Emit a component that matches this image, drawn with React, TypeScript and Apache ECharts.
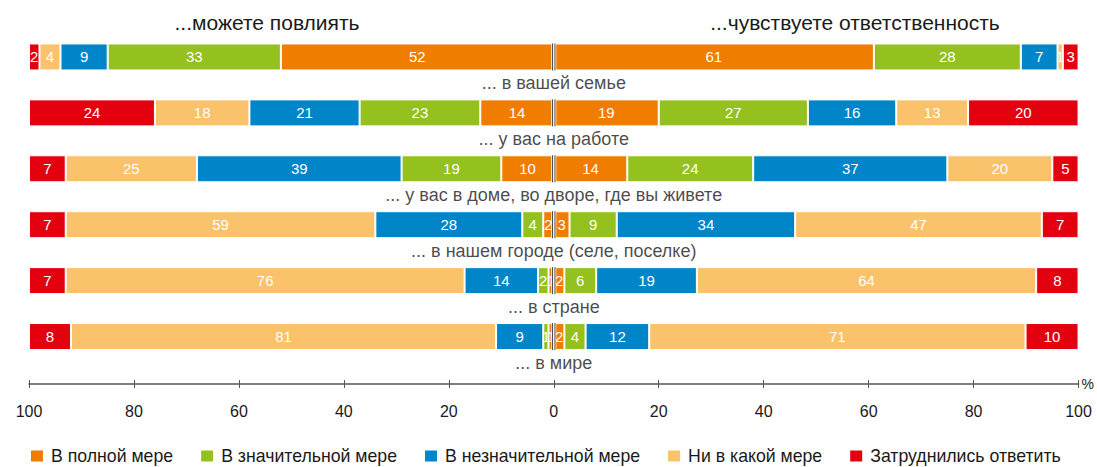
import React, { useEffect, useRef } from "react";
import * as echarts from "echarts";

const categories = [
  "... в вашей семье",
  "... у вас на работе",
  "... у вас в доме, во дворе, где вы живете",
  "... в нашем городе (селе, поселке)",
  "... в стране",
  "... в мире",
];
const levelNames = [
  "В полной мере",
  "В значительной мере",
  "В незначительной мере",
  "Ни в какой мере",
  "Затруднились ответить",
];
const levelColors = ["#F07C00", "#95C11F", "#0085C8", "#FAC26A", "#E3000F"];

// "...можете повлиять" (left side)
const influenceFull = [52, 14, 10, 2, 1, 1];
const influenceSignificant = [33, 23, 19, 4, 2, 1];
const influenceInsignificant = [9, 21, 39, 28, 14, 9];
const influenceNone = [4, 18, 25, 59, 76, 81];
const influenceHard = [2, 24, 7, 7, 7, 8];

// "...чувствуете ответственность" (right side)
const responsibleFull = [61, 19, 14, 3, 2, 2];
const responsibleSignificant = [28, 27, 24, 9, 6, 4];
const responsibleInsignificant = [7, 16, 37, 34, 19, 12];
const responsibleNone = [1, 13, 20, 47, 64, 71];
const responsibleHard = [3, 20, 5, 7, 8, 10];

const axisTicks = [-100, -80, -60, -40, -20, 0, 20, 40, 60, 80, 100];

const leftSide = [influenceFull, influenceSignificant, influenceInsignificant, influenceNone, influenceHard];
const rightSide = [responsibleFull, responsibleSignificant, responsibleInsignificant, responsibleNone, responsibleHard];

function sums(side: number[][]) {
  return categories.map((_, i) => side.reduce((s, arr) => s + arr[i], 0));
}

export default function App() {
  const ref = useRef<HTMLDivElement>(null);
  useEffect(() => {
    if (!ref.current) return;
    const chart = echarts.init(ref.current, undefined, { renderer: "svg" });
    const leftSums = sums(leftSide);
    const rightSums = sums(rightSide);
    const font = "Liberation Sans, Arial, sans-serif";

    const series: any[] = [];
    levelNames.forEach((name, k) => {
      [
        { side: leftSide, total: leftSums, sign: -1 },
        { side: rightSide, total: rightSums, sign: 1 },
      ].forEach(({ side, total, sign }) => {
        series.push({
          type: "bar",
          name,
          stack: "all",
          barWidth: 27,
          itemStyle: { color: levelColors[k], borderColor: "#fff", borderWidth: 1 },
          label: {
            show: true,
            position: "inside",
            color: "#fff",
            fontSize: 15,
            fontFamily: font,
            formatter: (p: any) => String(p.data.raw),
          },
          data: side[k].map((v, i) => ({ value: (sign * v * 100) / total[i], raw: v })),
        });
      });
    });

    // center divider
    series.push({
      type: "custom",
      name: "divider",
      z: 10,
      silent: true,
      encode: { x: 0, y: 1 },
      data: categories.map((_, i) => [0, i]),
      renderItem: (params: any, api: any) => {
        const p = api.coord([0, api.value(1)]);
        const h = 27;
        return {
          type: "group",
          children: [
            { type: "rect", shape: { x: p[0] - 2.5, y: p[1] - h / 2, width: 5, height: h }, style: { fill: "#fff" } },
            { type: "line", shape: { x1: p[0] - 1.2, y1: p[1] - h / 2, x2: p[0] - 1.2, y2: p[1] + h / 2 }, style: { stroke: "#444", lineWidth: 1 } },
            { type: "line", shape: { x1: p[0] + 1.2, y1: p[1] - h / 2, x2: p[0] + 1.2, y2: p[1] + h / 2 }, style: { stroke: "#444", lineWidth: 1 } },
          ],
        };
      },
    });

    // row labels
    series.push({
      type: "scatter",
      name: "rowLabels",
      silent: true,
      symbolSize: 1,
      itemStyle: { color: "rgba(0,0,0,0)" },
      data: categories.map((c, i) => ({ value: [0, i], name: c })),
      label: {
        show: true,
        position: "inside",
        offset: [0, 26],
        color: "#1a1a1a",
        fontSize: 18,
        fontFamily: font,
        formatter: (p: any) => p.name,
      },
      z: 11,
    });

    chart.setOption({
      animation: false,
      textStyle: { fontFamily: font },
      grid: { left: 29, right: 17, top: 29, bottom: 102.5 },
      legend: {
        data: levelNames,
        left: 29,
        top: 447,
        padding: 0,
        itemWidth: 14,
        itemHeight: 13,
        itemGap: 26,
        icon: "rect",
        textStyle: { fontSize: 17.7, color: "#1a1a1a", fontFamily: font, padding: [0, 0, 0, 2] },
      },
      graphic: [
        { type: "text", x: 267, y: 22, style: { text: "...можете повлиять", fontSize: 21, fill: "#1a1a1a", fontFamily: font, textAlign: "center", textVerticalAlign: "middle" } },
        { type: "text", x: 855, y: 22, style: { text: "...чувствуете ответственность", fontSize: 21, fill: "#1a1a1a", fontFamily: font, textAlign: "center", textVerticalAlign: "middle" } },
      ],
      xAxis: [
        {
          type: "value",
          min: axisTicks[0],
          max: axisTicks[axisTicks.length - 1],
          interval: 20,
          offset: 19.5,
          name: "%",
          nameLocation: "end",
          nameGap: 3,
          nameTextStyle: { fontSize: 14, color: "#1a1a1a", fontFamily: font },
          axisLine: { show: true, lineStyle: { color: "#555", width: 1.5 } },
          axisTick: { show: true, length: 4, lineStyle: { color: "#555" } },
          axisLabel: { fontSize: 16, color: "#1a1a1a", margin: 19, fontFamily: font, formatter: (v: number) => String(Math.abs(v)) },
          splitLine: { show: false },
        },
        {
          type: "value",
          position: "bottom",
          min: axisTicks[0],
          max: axisTicks[axisTicks.length - 1],
          interval: 20,
          offset: 19.5,
          axisLine: { show: false },
          axisTick: { show: true, inside: true, length: 4, lineStyle: { color: "#555" } },
          axisLabel: { show: false },
          splitLine: { show: false },
        },
      ],
      yAxis: {
        type: "category",
        data: categories,
        inverse: true,
        axisLine: { show: false },
        axisTick: { show: false },
        axisLabel: { show: false },
      },
      series,
    });
    return () => chart.dispose();
  }, []);
  return <div ref={ref} style={{ position: "absolute", left: 0, top: 0, width: 1097, height: 467 }} />;
}
